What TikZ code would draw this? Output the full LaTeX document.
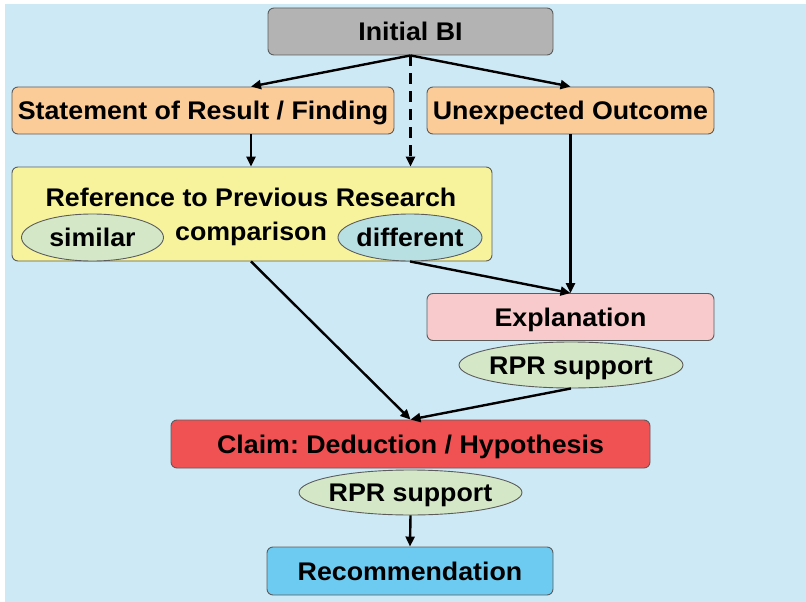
\documentclass[tikz,border=0pt]{standalone}
\usepackage{fontspec}
\setmainfont[FakeStretch=1.05]{Liberation Sans}
\usetikzlibrary{arrows.meta,shapes.geometric}
\frenchspacing

\definecolor{bgblue}{HTML}{CDE9F6}
\definecolor{edgegray}{HTML}{5C5C5C}
\definecolor{initgray}{HTML}{B3B3B3}
\definecolor{peach}{HTML}{FBCB98}
\definecolor{paleyellow}{HTML}{F7F39C}
\definecolor{palegreen}{HTML}{D4E8C7}
\definecolor{paleteal}{HTML}{B8E0E2}
\definecolor{palepink}{HTML}{F9CACB}
\definecolor{claimred}{HTML}{F05254}
\definecolor{recblue}{HTML}{6DCAF0}

\tikzset{
  lbl/.style={font=\fontsize{25.5}{30}\selectfont\bfseries, text=black},
  box/.style={lbl, draw=edgegray, line width=0.9pt, rounded corners=6pt,
    inner sep=0pt, text height=18.5pt, text depth=0pt, align=center},
  % the ellipse keeps its own size; its words sit on it as a centred label
  oval/.style={ellipse, draw=edgegray, line width=0.9pt, inner sep=0pt,
    label={[lbl, inner sep=0pt, text height=18.5pt, text depth=0pt]center:#1}},
  flow/.style={line width=2.4pt, -{Triangle[length=10pt,width=9pt]}},
  dflow/.style={flow, dash pattern=on 11pt off 7pt}
}

\begin{document}
\begin{tikzpicture}[x=1pt,y=-1pt]
  \useasboundingbox (0,0) rectangle (806,602);
  \fill[bgblue] (5,4) rectangle (806,602);

  % boxes
  \node[box, fill=initgray, minimum width=285pt, minimum height=47pt] (init) at (410.5,31.5) {Initial BI};
  \node[box, fill=peach, minimum width=382pt, minimum height=47pt] (stmt) at (203,110.5) {Statement of Result / Finding};
  \node[box, fill=peach, minimum width=287pt, minimum height=47pt] (unexp) at (570.5,110.5) {Unexpected Outcome};
  \node[box, fill=paleyellow, minimum width=480pt, minimum height=94pt] (ref) at (252,214) {};
  \node[lbl, anchor=base] (reftitle) at (251,206.5) {Reference to Previous Research};
  \node[lbl, anchor=base] (cmp) at (251,240.5) {comparison};
  \node[oval=similar, fill=palegreen, minimum width=142pt, minimum height=47pt] (sim) at (92.5,237.5) {};
  \node[oval=different, fill=paleteal, minimum width=144pt, minimum height=47pt] (diff) at (410,237.5) {};
  \node[box, fill=palepink, minimum width=287pt, minimum height=47pt] (expl) at (570.5,317) {Explanation};
  \node[oval=RPR support, fill=palegreen, minimum width=224pt, minimum height=46pt] (rpra) at (571,365) {};
  \node[box, fill=claimred, minimum width=479pt, minimum height=48pt] (claim) at (410.5,444) {Claim: Deduction / Hypothesis};
  \node[oval=RPR support, fill=palegreen, minimum width=223pt, minimum height=45pt] (rprb) at (410.5,492.5) {};
  \node[box, fill=recblue, minimum width=286pt, minimum height=48pt] (rec) at (410,571) {Recommendation};

  % connectors
  \draw[flow] (init.south) -- (stmt.north -| reftitle);
  \draw[flow] (init.south) -- (unexp.north);
  \draw[dflow] (init.south) -- (init.south |- ref.north);
  \draw[flow] (stmt.south -| reftitle) -- (ref.north -| reftitle);
  \draw[flow] (unexp.south) -- (expl.north);
  \draw[flow] (diff.south) -- (expl.north);
  \draw[flow] (ref.south -| reftitle) -- (claim.north);
  \draw[flow] (rpra.south) -- (claim.north);
  \draw[flow] (rprb.south) -- (rec.north);
\end{tikzpicture}
\end{document}
